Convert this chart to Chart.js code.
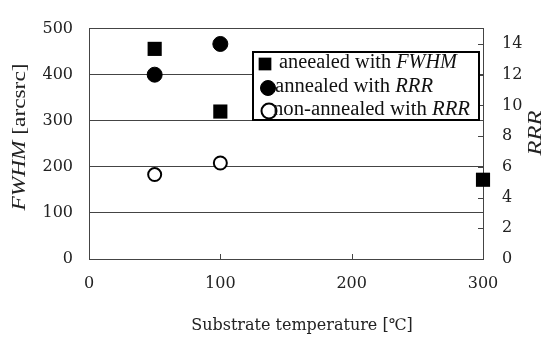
<!DOCTYPE html>
<html>
<head>
<meta charset="utf-8">
<script src="https://cdn.jsdelivr.net/npm/chart.js@4/dist/chart.umd.min.js"></script>
<style>
  html, body { margin: 0; padding: 0; background: #fff; }
  #wrap { width: 545px; height: 341px; }
</style>
</head>
<body>
<div id="wrap"><canvas id="myChart" width="545" height="341"></canvas></div>
<script>
// substrate temperature (°C) for each series
const tempFwhm = [50, 100, 300];
const fwhmAnnealed = [456, 320, 172];

const tempRrr = [50, 100];
const rrrAnnealed = [12.0, 14.0];
const rrrNonAnnealed = [5.5, 6.25];

// axis ticks
const xTicks = [0, 100, 200, 300];
const leftTicks = [0, 100, 200, 300, 400, 500];
const rightTicks = [0, 2, 4, 6, 8, 10, 12, 14];

const legendLabels = [
  [{ t: 'aneealed with ' }, { t: 'FWHM', i: true }],
  [{ t: 'annealed with ' }, { t: 'RRR', i: true }],
  [{ t: 'non-annealed with ' }, { t: 'RRR', i: true }]
];

const axisColor = '#444';
const serif = '"Liberation Serif", "Times New Roman", serif';
const tickFont = '"DejaVu Serif", serif';

function toPoints(xs, ys) {
  return xs.map((x, k) => ({ x: x, y: ys[k] }));
}

// draw text made of normal / italic runs, optionally squeezed/stretched to a width
function drawRuns(ctx, runs, x, y, size, align, width) {
  let total = 0;
  runs.forEach(r => {
    ctx.font = (r.i ? 'italic ' : '') + size + 'px ' + serif;
    r.w = ctx.measureText(r.t).width;
    total += r.w;
  });
  const sx = width ? width / total : 1;
  ctx.save();
  ctx.translate(x, y);
  ctx.scale(sx, 1);
  let cx = align === 'center' ? -total / 2 : 0;
  ctx.textAlign = 'left';
  ctx.textBaseline = 'middle';
  runs.forEach(r => {
    ctx.font = (r.i ? 'italic ' : '') + size + 'px ' + serif;
    ctx.fillText(r.t, cx, 0);
    cx += r.w;
  });
  ctx.restore();
}

const extras = {
  id: 'extras',
  afterDraw(chart) {
    const ctx = chart.ctx;
    const a = chart.chartArea;
    const x = chart.scales.x;
    const y1 = chart.scales.y1;
    ctx.save();
    ctx.strokeStyle = axisColor;
    ctx.lineWidth = 1;
    // inward tick marks on the bottom and right axes
    ctx.beginPath();
    xTicks.slice(1, -1).forEach(v => {
      const px = Math.round(x.getPixelForValue(v)) + 0.5;
      ctx.moveTo(px, a.bottom);
      ctx.lineTo(px, a.bottom - 5);
    });
    rightTicks.slice(1).forEach(v => {
      const py = Math.round(y1.getPixelForValue(v)) + 0.5;
      ctx.moveTo(a.right, py);
      ctx.lineTo(a.right - 5, py);
    });
    ctx.stroke();

    // axis titles
    ctx.fillStyle = '#222';
    ctx.save();
    ctx.translate(20, 137);
    ctx.rotate(-Math.PI / 2);
    drawRuns(ctx, [{ t: 'FWHM', i: true }, { t: ' [arcsrc]' }], 0, 0, 19, 'center', 147);
    ctx.restore();
    ctx.save();
    ctx.translate(536, 133);
    ctx.rotate(-Math.PI / 2);
    drawRuns(ctx, [{ t: 'RRR', i: true }], 0, 0, 19, 'center', 45);
    ctx.restore();
    ctx.font = '16px ' + tickFont;
    ctx.textAlign = 'center';
    ctx.textBaseline = 'middle';
    ctx.fillText('Substrate temperature [\u2103]', 302, 326);

    // legend box
    const lx = 253, ly = 52, lw = 226, lh = 68;
    ctx.fillStyle = '#fff';
    ctx.fillRect(lx, ly, lw, lh);
    ctx.strokeStyle = '#000';
    ctx.lineWidth = 2;
    ctx.strokeRect(lx, ly, lw, lh);
    const rows = [63, 87, 110];
    const markerX = [265, 268, 269];
    const textX = [279, 275, 273];
    const textW = [178, 158, 197];
    chart.data.datasets.forEach((ds, k) => {
      ctx.save();
      ctx.fillStyle = ds.pointBackgroundColor;
      ctx.strokeStyle = ds.pointBorderColor;
      ctx.lineWidth = ds.pointBorderWidth;
      Chart.helpers.drawPoint(ctx, {
        pointStyle: ds.pointStyle,
        rotation: 0,
        radius: k === 0 ? 9 : 7.5,
        borderWidth: ds.pointBorderWidth
      }, markerX[k], rows[k] + 1);
      ctx.restore();
      ctx.fillStyle = '#111';
      drawRuns(ctx, legendLabels[k], textX[k], rows[k], 20, 'left', textW[k]);
    });
    ctx.restore();
  }
};

const ctx = document.getElementById('myChart').getContext('2d');

const myChart = new Chart(ctx, {
  type: 'scatter',
  data: {
    datasets: [
      {
        label: 'aneealed with FWHM',
        data: toPoints(tempFwhm, fwhmAnnealed),
        yAxisID: 'y',
        clip: false,
        pointStyle: 'rect',
        pointRadius: 10,
        pointBackgroundColor: '#000',
        pointBorderColor: '#000',
        pointBorderWidth: 0
      },
      {
        label: 'annealed with RRR',
        data: toPoints(tempRrr, rrrAnnealed),
        yAxisID: 'y1',
        clip: false,
        pointStyle: 'circle',
        pointRadius: 7.5,
        pointBackgroundColor: '#000',
        pointBorderColor: '#000',
        pointBorderWidth: 1
      },
      {
        label: 'non-annealed with RRR',
        data: toPoints(tempRrr, rrrNonAnnealed),
        yAxisID: 'y1',
        clip: false,
        pointStyle: 'circle',
        pointRadius: 6.5,
        pointBackgroundColor: '#fff',
        pointBorderColor: '#000',
        pointBorderWidth: 2
      }
    ]
  },
  options: {
    responsive: false,
    animation: false,
    layout: { padding: { top: 17, left: 0, right: 0, bottom: 0 } },
    plugins: {
      legend: { display: false },
      tooltip: { enabled: false }
    },
    scales: {
      x: {
        type: 'linear',
        min: 0,
        max: 300,
        afterBuildTicks: s => { s.ticks = xTicks.map(v => ({ value: v })); },
        afterFit: s => { s.height = 82; },
        grid: { display: false, drawTicks: false },
        border: { display: true, color: axisColor, width: 1 },
        ticks: {
          padding: 15,
          color: '#222',
          font: { family: tickFont, size: 16 }
        }
      },
      y: {
        position: 'left',
        min: 0,
        max: 500,
        afterBuildTicks: s => { s.ticks = leftTicks.map(v => ({ value: v })); },
        afterFit: s => { s.width = 89; },
        grid: { color: axisColor, lineWidth: 1, drawTicks: false },
        border: { display: true, color: axisColor, width: 1 },
        ticks: {
          padding: 16,
          color: '#222',
          font: { family: tickFont, size: 16 }
        }
      },
      y1: {
        position: 'right',
        min: 0,
        max: 15,
        afterBuildTicks: s => { s.ticks = rightTicks.map(v => ({ value: v })); },
        afterFit: s => { s.width = 62; },
        grid: { display: false, drawTicks: false },
        border: { display: true, color: axisColor, width: 1 },
        ticks: {
          padding: 19,
          color: '#222',
          font: { family: tickFont, size: 16 }
        }
      }
    }
  },
  plugins: [extras]
});
</script>
</body>
</html>
